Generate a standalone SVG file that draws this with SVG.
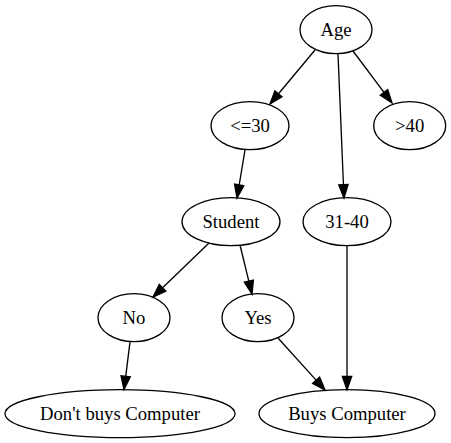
<svg xmlns="http://www.w3.org/2000/svg" width="451" height="443" viewBox="0 0 451 443">
<style>
.n ellipse{fill:none;stroke:#000;stroke-width:1.33}
.n text{font-family:"Liberation Serif","Times New Roman",serif;font-size:18.67px;text-anchor:middle;fill:#000}
.e line{stroke:#000;stroke-width:1.33}
.e polygon{fill:#000;stroke:#000;stroke-width:1.33}
</style>
<rect width="451" height="443" fill="#fff"/>
<g id="edges" class="e">
<line x1="315" y1="50" x2="278.5" y2="93.8"/><polygon points="282.1,96.8 270,104 274.9,90.8"/>
<line x1="353" y1="51" x2="384" y2="92.4"/><polygon points="380.3,95.2 392,103 387.7,89.6"/>
<line x1="338" y1="54" x2="343.45" y2="184.7"/><polygon points="338.8,184.9 344,198 348.1,184.5"/>
<line x1="245" y1="150" x2="239.2" y2="184.9"/><polygon points="234.6,184.1 237,198 243.8,185.7"/>
<line x1="209" y1="243" x2="162.6" y2="287.8"/><polygon points="165.8,291.1 153,297 159.3,284.4"/>
<line x1="240" y1="245" x2="248.8" y2="281.1"/><polygon points="244.3,282.2 252,294 253.4,280"/>
<line x1="130" y1="342" x2="125.7" y2="376.3"/><polygon points="121,375.7 124,389.5 130.3,376.9"/>
<line x1="278" y1="338" x2="316.1" y2="380.1"/><polygon points="312.6,383.3 325,390 319.6,377"/>
<line x1="347" y1="245.7" x2="347" y2="376.4"/><polygon points="342.3,376.4 347,389.7 351.7,376.4"/>
</g>
<g id="age" class="n"><ellipse cx="336" cy="29.7" rx="36" ry="24"/><text x="336" y="35.7">Age</text></g>
<g id="le30" class="n"><ellipse cx="250" cy="125.7" rx="39" ry="24"/><text x="250" y="131.7">&lt;=30</text></g>
<g id="gt40" class="n"><ellipse cx="409.7" cy="125.7" rx="36" ry="24"/><text x="409.7" y="131.7">&gt;40</text></g>
<g id="student" class="n"><ellipse cx="231" cy="221.7" rx="49" ry="24"/><text x="231" y="227.7">Student</text></g>
<g id="r3140" class="n"><ellipse cx="347" cy="221.7" rx="44" ry="24"/><text x="347" y="227.7">31-40</text></g>
<g id="no" class="n"><ellipse cx="134" cy="317.7" rx="36" ry="24"/><text x="134" y="323.7">No</text></g>
<g id="yes" class="n"><ellipse cx="258" cy="317.7" rx="36" ry="24"/><text x="258" y="323.7">Yes</text></g>
<g id="dont" class="n"><ellipse cx="120" cy="413.7" rx="115" ry="24"/><text x="120" y="419.7">Don't buys Computer</text></g>
<g id="buys" class="n"><ellipse cx="347" cy="413.7" rx="88" ry="24"/><text x="347" y="419.7">Buys Computer</text></g>
</svg>
